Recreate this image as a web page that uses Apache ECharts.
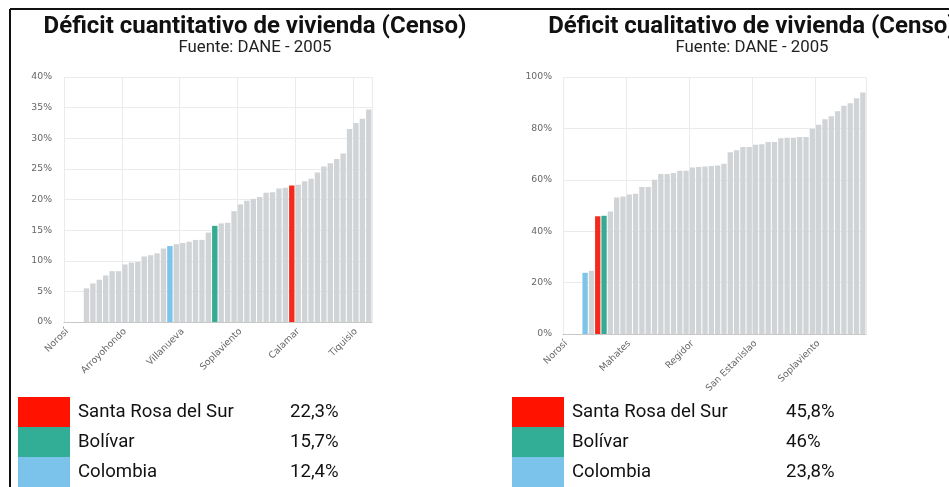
<!DOCTYPE html>
<html><head><meta charset="utf-8">
<script src="https://cdn.jsdelivr.net/npm/echarts@6/dist/echarts.min.js"></script>
<style>html,body{margin:0;padding:0;background:#fff;}#c{width:949px;height:487px;}</style>
</head><body><div id="c"></div>
<script>
// ---- Data ----
const leftCategories = ['Norosí','Cantagallo','San Jacinto del Cauca','Cartagena','Turbaco','Arjona','Magangué','Mompós','El Carmen de Bolívar','Arroyohondo','Turbaná','Clemencia','Santa Rosa','San Juan Nepomuceno','María la Baja','San Jacinto','Colombia','Mahates','Villanueva','San Estanislao','Zambrano','El Guamo','Córdoba','Bolívar','San Fernando','Cicuco','Margarita','Soplaviento','Regidor','Talaigua Nuevo','San Cristóbal','Hatillo de Loba','Río Viejo','Pinillos','Altos del Rosario','Santa Rosa del Sur','Calamar','Achí','Arenal','Barranco de Loba','El Peñón','Montecristo','Morales','San Martín de Loba','San Pablo','Tiquisio','Simití','Santa Catalina'];
const leftValues = [null,null,null,5.5,6.3,6.9,7.6,8.3,8.3,9.4,9.7,9.8,10.7,10.9,11.2,12.0,12.4,12.7,12.9,13.1,13.4,13.4,14.6,15.7,16.1,16.2,18.1,19.2,19.8,20.1,20.4,21.1,21.2,21.8,21.9,22.3,22.4,23.0,23.4,24.4,25.4,25.9,26.6,27.5,31.5,32.5,33.2,34.7];
const rightCategories = ['Norosí','Cantagallo','San Jacinto del Cauca','Colombia','Cartagena','Santa Rosa del Sur','Bolívar','Turbaco','Arjona','Magangué','Mahates','Turbaná','Clemencia','Santa Rosa','San Juan Nepomuceno','Mompós','El Carmen de Bolívar','San Jacinto','Villanueva','María la Baja','Regidor','Arroyohondo','Zambrano','El Guamo','Córdoba','Calamar','Cicuco','Margarita','Talaigua Nuevo','San Fernando','San Estanislao','San Cristóbal','Hatillo de Loba','Río Viejo','Pinillos','Altos del Rosario','Achí','Arenal','Barranco de Loba','El Peñón','Soplaviento','Montecristo','Morales','San Martín de Loba','San Pablo','Simití','Tiquisio','Santa Catalina'];
const rightValues = [null,null,null,23.8,24.6,45.8,46,47.7,53.1,53.5,54.3,54.6,57.2,57.2,60.0,62.3,62.3,62.6,63.5,63.5,64.8,65.0,65.2,65.4,65.6,66.2,70.7,71.5,72.8,72.8,73.6,73.8,74.7,74.7,76.2,76.4,76.4,76.7,76.7,79.9,81.4,83.6,84.7,86.7,88.8,89.8,91.7,94.0];
const legendNames = ['Santa Rosa del Sur','Bolívar','Colombia'];
const leftLegendValues = ['22,3%','15,7%','12,4%'];
const rightLegendValues = ['45,8%','46%','23,8%'];
const leftTitle = 'Déficit cuantitativo de vivienda (Censo)';
const rightTitle = 'Déficit cualitativo de vivienda (Censo)';
const subTitle = 'Fuente: DANE - 2005';

// ---- Styles ----
const highlight = {'Santa Rosa del Sur':'#f52a1c','Bolívar':'#35ab93','Colombia':'#7cc4ea'};
const legendColors = ['#ff1200','#32ad96','#7bc3ea'];
const grayBar = '#d1d4d6';

function barData(cats, vals){
  return vals.map((v,i)=>({value:v, itemStyle:{color: highlight[cats[i]] || grayBar}}));
}
const axisLabelStyle = {fontFamily:'DejaVu Sans', fontSize:9.3, color:'#666'};
function xAxis(gridIndex, cats, interval){
  return {type:'category', gridIndex, data:cats,
    axisLine:{lineStyle:{color:'#c8c8c8'}},
    axisTick:{alignWithLabel:true, interval, length:4, lineStyle:{color:'#c8c8c8'}},
    axisLabel:Object.assign({interval, rotate:45, margin:8}, axisLabelStyle),
    splitLine:{show:true, interval, lineStyle:{color:'#ebebeb'}}};
}
function yAxis(gridIndex, max, interval, margin){
  return {type:'value', gridIndex, min:0, max, interval,
    axisLine:{show:false}, axisTick:{show:false},
    axisLabel:Object.assign({formatter:'{value}%', margin}, axisLabelStyle),
    splitLine:{lineStyle:{color:'#ebebeb'}}};
}

const graphics = [];
// border
graphics.push({type:'line', shape:{x1:10,y1:9,x2:949,y2:9}, style:{stroke:'#111', lineWidth:2}, z:100});
graphics.push({type:'line', shape:{x1:10,y1:9,x2:10,y2:487}, style:{stroke:'#111', lineWidth:2}, z:100});
// titles
[[255,leftTitle],[752,rightTitle]].forEach(([cx,t])=>{
  graphics.push({type:'text', x:cx, y:27, style:{text:t, font:'bold 24px Roboto', fill:'#111', align:'center', verticalAlign:'middle'}, z:100});
  graphics.push({type:'text', x:cx, y:48, style:{text:subTitle, font:'16.8px Roboto', fill:'#222', align:'center', verticalAlign:'middle'}, z:100});
});
// legend tables
[[18,78,290,leftLegendValues],[512,572,786,rightLegendValues]].forEach(([sx,tx,vx,vals])=>{
  legendNames.forEach((n,i)=>{
    const y0 = 397 + i*30;
    graphics.push({type:'rect', shape:{x:sx,y:y0,width:52,height:30}, style:{fill:legendColors[i]}, z:100});
    graphics.push({type:'text', x:tx, y:y0+15, style:{text:n, font:'18.6px Roboto', fill:'#111', verticalAlign:'middle'}, z:100});
    graphics.push({type:'text', x:vx, y:y0+15, style:{text:vals[i], font:'18.6px Roboto', fill:'#111', verticalAlign:'middle'}, z:100});
  });
});

const chart = echarts.init(document.getElementById('c'), null, {renderer:'canvas'});
chart.setOption({
  animation:false,
  backgroundColor:'#fff',
  grid:[
    {left:64, top:77, width:308, height:245},
    {left:563, top:77, width:303, height:257}
  ],
  xAxis:[xAxis(0,leftCategories,8), xAxis(1,rightCategories,9)],
  yAxis:[yAxis(0,40,5,12), yAxis(1,100,20,11)],
  series:[
    {type:'bar', xAxisIndex:0, yAxisIndex:0, data:barData(leftCategories,leftValues), barCategoryGap:'16%'},
    {type:'bar', xAxisIndex:1, yAxisIndex:1, data:barData(rightCategories,rightValues), barCategoryGap:'16%'}
  ],
  graphic:graphics
});
</script></body></html>
